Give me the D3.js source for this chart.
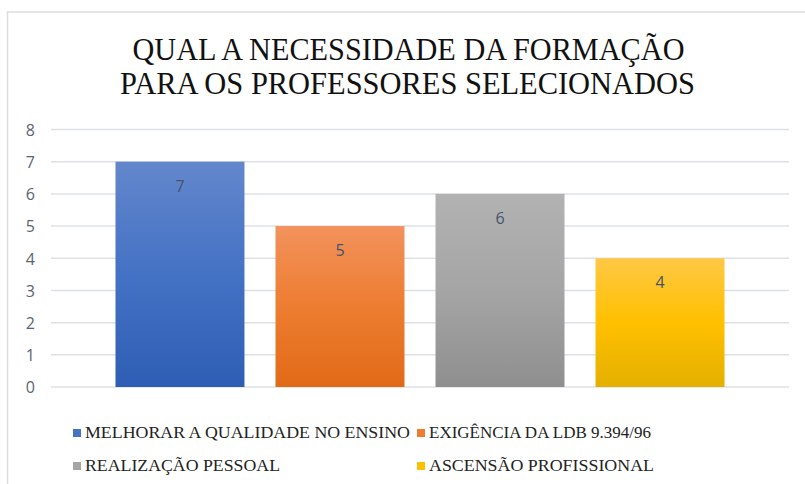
<!DOCTYPE html>
<html>
<head>
<meta charset="utf-8">
<script src="https://cdn.jsdelivr.net/npm/d3@7"></script>
<style>
  body { margin: 0; background: #fff; }
  svg { display: block; }
  .serif { font-family: "Liberation Serif", Tinos, "Times New Roman", Times, "DejaVu Serif", "Noto Serif", serif; }
</style>
</head>
<body>
<svg id="chart"></svg>
<script>
// Data
const titleLines = ["QUAL A NECESSIDADE DA FORMAÇÃO", "PARA OS PROFESSORES SELECIONADOS"];
const series = ["MELHORAR A QUALIDADE NO ENSINO", "EXIGÊNCIA DA LDB 9.394/96", "REALIZAÇÃO PESSOAL", "ASCENSÃO PROFISSIONAL"];
const values = [7, 5, 6, 4];
const yTicks = [0, 1, 2, 3, 4, 5, 6, 7, 8];

// Colours (top, middle, bottom of the gradient)
const gradients = [
    ["#6387cc", "#4472c4", "#2e5db5"],
    ["#f2925c", "#ed7d31", "#e16a17"],
    ["#b2b2b2", "#a5a5a5", "#8f8f8f"],
    ["#ffc845", "#ffc000", "#e4b000"]
];

const dimensions = {
    width: 805,
    height: 484,
    plot: { left: 51, right: 789, top: 129.5, bottom: 387 }
};

const svg = d3.select("#chart")
    .attr("width", dimensions.width)
    .attr("height", dimensions.height);

// Gradient fills
const defs = svg.append("defs");
gradients.forEach((g, i) => {
    const lg = defs.append("linearGradient")
        .attr("id", "grad" + i)
        .attr("x1", 0).attr("y1", 0)
        .attr("x2", 0).attr("y2", 1);
    lg.append("stop").attr("offset", "0%").attr("stop-color", g[0]);
    lg.append("stop").attr("offset", "50%").attr("stop-color", g[1]);
    lg.append("stop").attr("offset", "100%").attr("stop-color", g[2]);
});

// Chart border
svg.append("rect")
    .attr("x", 7.5)
    .attr("y", 12)
    .attr("width", 830)
    .attr("height", 500)
    .attr("fill", "none")
    .attr("stroke", "#d9dde3")
    .attr("stroke-width", 1.5);

// Title
const titleWidths = [552, 575];
const titleX = [132.5, 120];
svg.append("g")
    .selectAll("text")
    .data(titleLines)
    .join("text")
    .attr("class", "serif")
    .attr("x", (d, i) => titleX[i])
    .attr("y", (d, i) => 59.5 + i * 34)
    .attr("textLength", (d, i) => titleWidths[i])
    .attr("lengthAdjust", "spacingAndGlyphs")
    .attr("font-size", 31)
    .attr("fill", "#111")
    .text(d => d);

// Scales
const xScale = d3.scaleBand()
    .domain(series)
    .range([dimensions.plot.left, dimensions.plot.right])
    .paddingInner(0.194)
    .paddingOuter(0.403);

const yScale = d3.scaleLinear()
    .domain([0, 8])
    .range([dimensions.plot.bottom, dimensions.plot.top]);

// Gridlines
svg.append("g")
    .selectAll("line")
    .data(yTicks)
    .join("line")
    .attr("x1", dimensions.plot.left)
    .attr("x2", dimensions.plot.right)
    .attr("y1", d => yScale(d))
    .attr("y2", d => yScale(d))
    .attr("stroke", "#dde1e7")
    .attr("stroke-width", 1.5);

// Y axis labels
const yAxis = svg.append("g")
    .attr("transform", `translate(${dimensions.plot.left - 16},0)`)
    .call(d3.axisLeft(yScale).tickValues(yTicks).tickSize(0).tickPadding(0));
yAxis.select(".domain").remove();
yAxis.selectAll("text")
    .attr("dy", "0.36em")
    .attr("font-family", "'Open Sans', 'Liberation Sans', sans-serif")
    .attr("font-size", 16)
    .attr("fill", "#5b6472");

// Bars
svg.append("g")
    .selectAll("rect")
    .data(values)
    .join("rect")
    .attr("x", (d, i) => xScale(series[i]))
    .attr("y", d => yScale(d))
    .attr("width", xScale.bandwidth())
    .attr("height", d => yScale(0) - yScale(d))
    .attr("fill", (d, i) => `url(#grad${i})`);

// Data labels
svg.append("g")
    .selectAll("text")
    .data(values)
    .join("text")
    .attr("x", (d, i) => xScale(series[i]) + xScale.bandwidth() / 2)
    .attr("y", d => yScale(d) + 30)
    .attr("text-anchor", "middle")
    .attr("font-family", "'Open Sans', 'Liberation Sans', sans-serif")
    .attr("font-size", 16)
    .attr("fill", "#44546a")
    .text(d => d);

// Legend
const legendPos = [[73, 429], [417, 429], [73, 462], [417, 462]];
const legendWidths = [325, 222, 195, 225];
const legend = svg.append("g");
series.forEach((name, i) => {
    legend.append("rect")
        .attr("x", legendPos[i][0])
        .attr("y", legendPos[i][1])
        .attr("width", 8)
        .attr("height", 8)
        .attr("fill", gradients[i][1]);

    legend.append("text")
        .attr("class", "serif")
        .attr("x", legendPos[i][0] + 12)
        .attr("y", legendPos[i][1] + 9)
        .attr("textLength", legendWidths[i])
        .attr("lengthAdjust", "spacingAndGlyphs")
        .attr("font-size", 17)
        .attr("fill", "#222")
        .text(name);
});
</script>
</body>
</html>
